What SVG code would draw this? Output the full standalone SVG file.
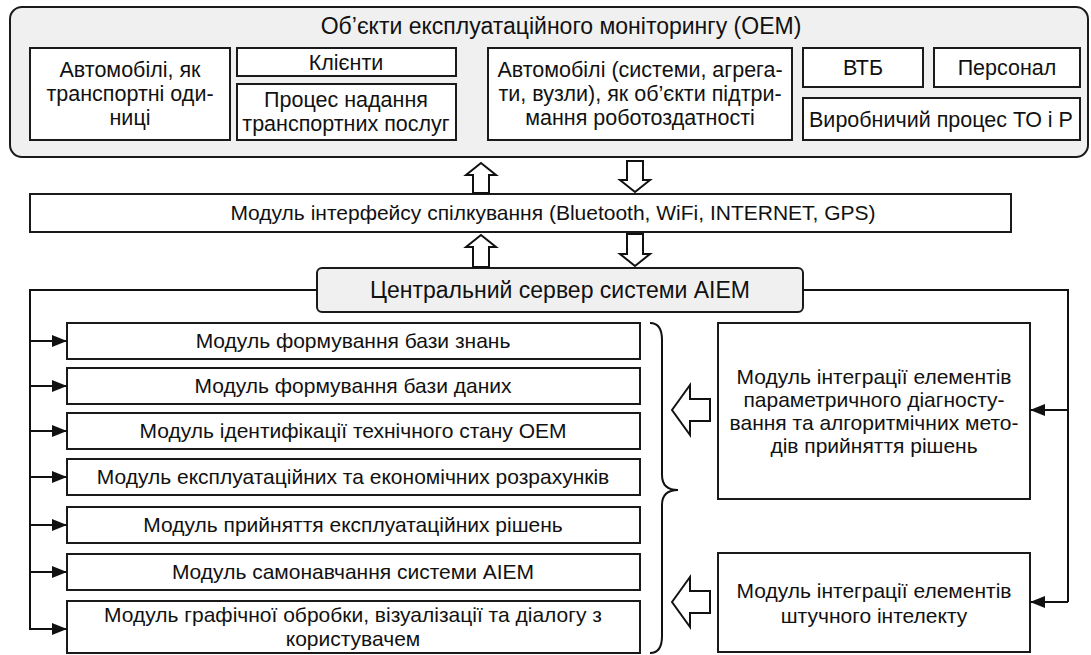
<svg xmlns="http://www.w3.org/2000/svg" width="1091" height="655" viewBox="0 0 1091 655">
<style>
  .box{fill:#fff;stroke:#1a1a1a;stroke-width:2}
  .grey{fill:#f0f0f0;stroke:#1a1a1a;stroke-width:2}
  .t{font-family:"Liberation Sans",Arial,sans-serif;font-size:21px;fill:#111;text-anchor:middle}
  .top{font-size:21.5px}
  .ttl{font-size:23px}
  .big{font-size:23px}
  .ln{fill:none;stroke:#111;stroke-width:2}
  .blk{fill:#fff;stroke:#111;stroke-width:2;stroke-linejoin:miter}
</style>
<defs>
  <marker id="ah" viewBox="0 0 15 12" refX="15" refY="6" markerWidth="15" markerHeight="12" markerUnits="userSpaceOnUse" orient="auto">
    <path d="M0,0 L15,6 L0,12 z" fill="#111"/>
  </marker>
</defs>
<rect width="1091" height="655" fill="#fff"/>

<g id="oem">
  <rect class="grey" x="10" y="7" width="1078" height="150" rx="12"/>
  <text class="t ttl" x="561" y="34">Об’єкти експлуатаційного моніторингу (OEM)</text>
</g>
<g id="cars-units">
  <rect class="box" x="30" y="48" width="200" height="92"/>
  <text class="t top" x="130" y="77">Автомобілі, як</text>
  <text class="t top" x="130" y="101">транспортні оди-</text>
  <text class="t top" x="130" y="125">ниці</text>
</g>
<g id="clients">
  <rect class="box" x="237" y="48" width="219" height="28"/>
  <text class="t top" x="346" y="70">Клієнти</text>
</g>
<g id="transport-process">
  <rect class="box" x="237" y="84" width="219" height="56"/>
  <text class="t top" x="346" y="107">Процес надання</text>
  <text class="t top" x="346" y="131">транспортних послуг</text>
</g>
<g id="cars-objects">
  <rect class="box" x="488" y="48" width="304" height="92"/>
  <text class="t top" x="640" y="77">Автомобілі (системи, агрега-</text>
  <text class="t top" x="640" y="101">ти, вузли), як об’єкти підтри-</text>
  <text class="t top" x="640" y="125">мання роботоздатності</text>
</g>
<g id="vtb">
  <rect class="box" x="803" y="48" width="120" height="39"/>
  <text class="t top" x="863" y="75">ВТБ</text>
</g>
<g id="staff">
  <rect class="box" x="934" y="48" width="146" height="39"/>
  <text class="t top" x="1007" y="75">Персонал</text>
</g>
<g id="production">
  <rect class="box" x="803" y="98" width="277" height="42"/>
  <text class="t top" x="941" y="127">Виробничий процес ТО і Р</text>
</g>

<g id="interface">
  <rect class="box" x="30" y="194" width="981" height="38"/>
  <text class="t" x="553" y="220">Модуль інтерфейсу спілкування (Bluetooth, WiFi, INTERNET, GPS)</text>
</g>

<g id="server">
  <rect class="grey" x="317" y="268" width="486" height="44" rx="5"/>
  <text class="t big" x="560" y="298">Центральний сервер системи AIEM</text>
</g>

<g id="m1"><rect class="box" x="67" y="323" width="573" height="36"/><text class="t" x="353" y="348">Модуль формування бази знань</text></g>
<g id="m2"><rect class="box" x="67" y="368" width="573" height="36"/><text class="t" x="353" y="393">Модуль формування бази даних</text></g>
<g id="m3"><rect class="box" x="67" y="413" width="573" height="36"/><text class="t" x="353" y="438">Модуль ідентифікації технічного стану ОЕМ</text></g>
<g id="m4"><rect class="box" x="67" y="459" width="573" height="36"/><text class="t" x="353" y="484">Модуль експлуатаційних та економічних розрахунків</text></g>
<g id="m5"><rect class="box" x="67" y="507" width="573" height="36"/><text class="t" x="353" y="532">Модуль прийняття експлуатаційних рішень</text></g>
<g id="m6"><rect class="box" x="67" y="554" width="573" height="36"/><text class="t" x="353" y="579">Модуль самонавчання системи AIEM</text></g>
<g id="m7"><rect class="box" x="67" y="601" width="573" height="52"/><text class="t" x="353" y="622">Модуль графічної обробки, візуалізації та діалогу з</text><text class="t" x="353" y="646">користувачем</text></g>

<g id="integration-param">
  <rect class="box" x="718" y="323" width="312" height="176"/>
  <text class="t" x="874" y="384">Модуль інтеграції елементів</text>
  <text class="t" x="874" y="407">параметричного діагносту-</text>
  <text class="t" x="874" y="430">вання та алгоритмічних мето-</text>
  <text class="t" x="874" y="453">дів прийняття рішень</text>
</g>
<g id="integration-ai">
  <rect class="box" x="718" y="553" width="312" height="99"/>
  <text class="t" x="874" y="598">Модуль інтеграції елементів</text>
  <text class="t" x="874" y="623">штучного інтелекту</text>
</g>

<g id="connectors">
  <polygon class="blk" points="481,163 496,175 489,175 489,193 473,193 473,175 466,175"/>
  <polygon class="blk" points="627,161 643,161 643,180 650,180 635,192 620,180 627,180"/>
  <polygon class="blk" points="481,235 496,247 489,247 489,267 473,267 473,247 466,247"/>
  <polygon class="blk" points="627,234 643,234 643,254 650,254 635,266 620,254 627,254"/>

  <path class="ln" d="M317,290 H30 V630"/>
  <path class="ln" d="M30,341 H67" marker-end="url(#ah)"/>
  <path class="ln" d="M30,386 H67" marker-end="url(#ah)"/>
  <path class="ln" d="M30,431 H67" marker-end="url(#ah)"/>
  <path class="ln" d="M30,477 H67" marker-end="url(#ah)"/>
  <path class="ln" d="M30,525 H67" marker-end="url(#ah)"/>
  <path class="ln" d="M30,572 H67" marker-end="url(#ah)"/>
  <path class="ln" d="M30,629 H67" marker-end="url(#ah)"/>

  <path class="ln" d="M803,290 H1068 V602"/>
  <path class="ln" d="M1068,410 H1030" marker-end="url(#ah)"/>
  <path class="ln" d="M1068,602 H1030" marker-end="url(#ah)"/>

  <path class="ln" d="M650,323 Q662,323 662,340 L662,475 Q662,490 678,490 Q662,490 662,505 L662,636 Q662,653 650,653"/>

  <polygon class="blk" points="672,410 690,385 690,399 710,399 710,421 690,421 690,435"/>
  <polygon class="blk" points="672,602 690,577 690,591 710,591 710,613 690,613 690,627"/>
</g>
</svg>
